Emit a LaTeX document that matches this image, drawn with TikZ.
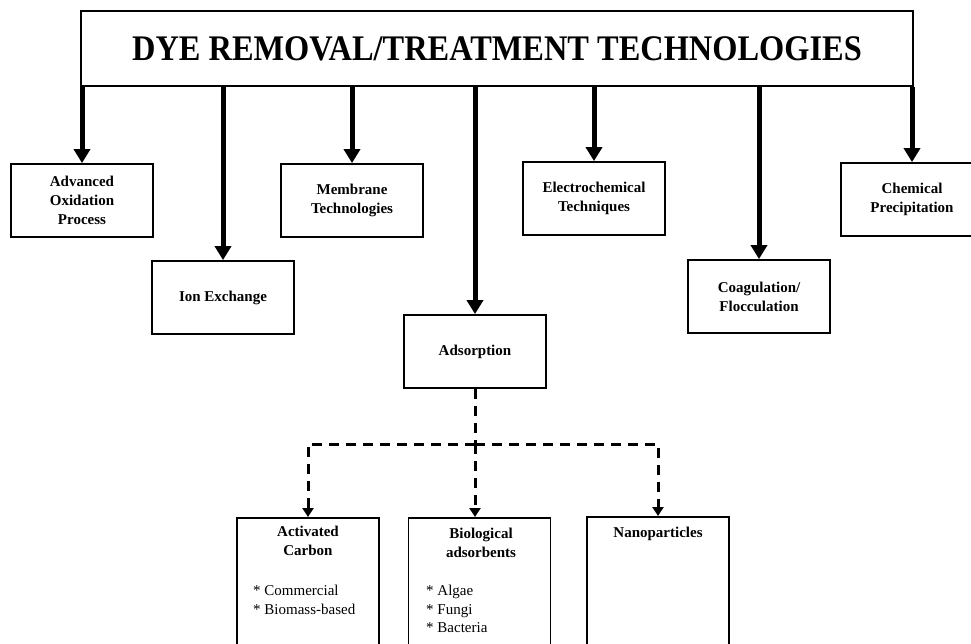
\documentclass[tikz,border=0pt]{standalone}
\usepackage{fontspec}
\setmainfont{Liberation Serif}
\usetikzlibrary{arrows.meta}
\begin{document}
\begin{tikzpicture}[x=1pt,y=-1pt,
  box/.style={draw, line width=1.8pt, inner sep=0pt, align=center, minimum width=142pt, minimum height=73pt,
    font=\fontsize{15}{19}\selectfont\bfseries},
  tallbox/.style={draw, line width=1.8pt, inner sep=0pt, minimum width=142pt, minimum height=180pt, anchor=north},
  head/.style={inner sep=0pt, align=center, anchor=north, font=\fontsize{15}{19}\selectfont\bfseries},
  items/.style={inner sep=0pt, align=left, anchor=north west, font=\fontsize{15}{18.5}\selectfont},
  arr/.style={line width=5pt, -{Triangle[width=16pt,length=14pt]}},
  dline/.style={line width=3pt, dash pattern=on 10pt off 7pt},
  darr/.style={dline, -{Triangle[width=11pt,length=9pt]}}
]
\useasboundingbox (0,0) rectangle (971,643);
\clip (0,0) rectangle (971,643);

\node[draw, line width=1.8pt, minimum width=832pt, minimum height=75pt, inner sep=0pt] (title) at (497,48.5)
  {\fontsize{36}{40}\selectfont\bfseries\scalebox{0.9}[1]{DYE REMOVAL/TREATMENT TECHNOLOGIES}};

\node[box] (aop)   at (82,200.5)  {Advanced\\Oxidation\\Process};
\node[box] (ion)   at (223,297.5) {Ion Exchange};
\node[box] (mem)   at (352,200.5) {Membrane\\Technologies};
\node[box] (ads)   at (475,351.5) {Adsorption};
\node[box] (ele)   at (594,198.5) {Electrochemical\\Techniques};
\node[box] (coag)  at (759,296.5) {Coagulation/\\Flocculation};
\node[box] (chem)  at (912,199.5) {Chemical\\Precipitation};

\foreach \n in {aop,ion,mem,ads,ele,coag,chem}
  \draw[arr] (title.south -| \n.north) -- (\n.north);

\node[tallbox] (ac)   at (308,517) {};
\node[tallbox] (bio)  at (479.5,517) {};
\node[tallbox] (nano) at (658,516) {};

\node[head] (achead) at (308,526) {Activated\\Carbon};
\node[items] (acitems) at (253,585) {* Commercial\\* Biomass-based};
\node[head] (biohead) at (481,528) {Biological\\adsorbents};
\node[items] (bioitems) at (426,585) {* Algae\\* Fungi\\* Bacteria};
\node[head] (nanohead) at (658,527) {Nanoparticles};

\coordinate (hub) at (475,444);
\draw[dline] (ads.south) -- (hub);
\draw[darr] (hub) -| (ac.north);
\draw[darr] (hub) -| (nano.north);
\draw[darr] (hub) -- (hub |- bio.north);
\end{tikzpicture}
\end{document}
